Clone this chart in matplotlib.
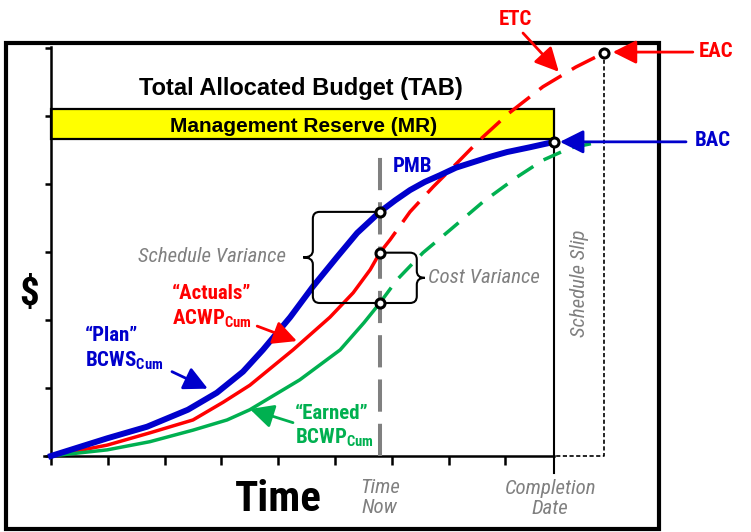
import matplotlib.pyplot as plt
from matplotlib import font_manager as fm
from matplotlib.path import Path
from matplotlib.patches import PathPatch, Rectangle

# the reference uses a narrow sans; use one if installed, else shrink Liberation Sans
fams = {f.name for f in fm.fontManager.ttflist}
if 'Liberation Sans Narrow' in fams:
    NARROW, k = 'Liberation Sans Narrow', 1.0
elif 'Roboto Condensed' in fams:
    NARROW, k = 'Roboto Condensed', 1.0
else:
    NARROW, k = 'Liberation Sans', 0.88

plt.rcParams['font.family'] = [NARROW, 'Liberation Sans', 'DejaVu Sans']
plt.rcParams['mathtext.fontset'] = 'custom'
plt.rcParams['mathtext.bf'] = NARROW + ':bold'
plt.rcParams['mathtext.rm'] = NARROW

# time and cost, both in tick units
bcws_t = [0, 0.99, 1.69, 2.41, 2.92, 3.38, 3.73, 4.21, 4.61, 5.04, 5.39, 5.79,
          6.06, 6.32, 6.58, 6.85, 7.13, 7.43, 7.73, 8.03, 8.43, 8.86]
bcws_v = [0, 0.26, 0.43, 0.68, 0.93, 1.24, 1.56, 2.04, 2.49, 2.93, 3.28, 3.59,
          3.76, 3.91, 4.03, 4.13, 4.24, 4.32, 4.40, 4.47, 4.54, 4.62]
acwp_t = [0, 0.99, 1.74, 2.50, 3.03, 3.50, 4.26, 4.91, 5.32, 5.62, 5.79]
acwp_v = [0, 0.16, 0.34, 0.53, 0.79, 1.04, 1.56, 2.04, 2.40, 2.74, 2.99]
etc_t = [5.79, 5.97, 6.32, 6.73, 7.15, 7.55, 8.06, 8.66, 9.24, 9.74]
etc_v = [2.99, 3.18, 3.59, 3.96, 4.31, 4.65, 5.04, 5.43, 5.72, 5.93]
bcwp_t = [0, 0.99, 1.74, 2.50, 3.10, 3.50, 4.38, 5.09, 5.51, 5.79]
bcwp_v = [0, 0.09, 0.21, 0.38, 0.53, 0.68, 1.12, 1.56, 1.96, 2.25]
fcst_t = [5.79, 6.09, 6.55, 7.02, 7.61, 8.20, 8.66, 9.14, 9.67]
fcst_v = [2.25, 2.59, 2.99, 3.32, 3.74, 4.10, 4.35, 4.53, 4.62]

time_now = 5.79
completion = 8.86
mr_low = 4.66
tab = 5.10
x_ticks = [0, 1, 2, 3, 4, 5, 6, 7, 8]
y_ticks = [0, 1, 2, 3, 4, 5, 6]

BLUE = '#0000CC'
RED = '#FF0000'
GREEN = '#00B050'
GRAY = '#808080'

fig = plt.figure(figsize=(7.51, 5.32), dpi=100)
ax = fig.add_axes([0, 0, 1, 1])
ax.set_xlim(-0.898, 12.324)
ax.set_ylim(-1.118, 6.706)

# axes
for s in ['top', 'right']:
    ax.spines[s].set_visible(False)
ax.spines['left'].set_position(('data', 0))
ax.spines['bottom'].set_position(('data', 0))
ax.spines['left'].set_bounds(0, 6.01)
ax.spines['bottom'].set_bounds(-0.12, completion)
ax.spines['left'].set_linewidth(1.8)
ax.spines['bottom'].set_linewidth(1.8)
ax.set_xticks(x_ticks)
ax.set_yticks(y_ticks)
ax.tick_params(axis='x', direction='out', length=6.5, width=1.8, labelbottom=False)
ax.tick_params(axis='y', direction='out', length=4.5, width=1.8, labelleft=False)

# outer frame
ax.add_patch(Rectangle((-0.79, -1.07), 11.49, 7.14, fill=False, lw=3, ec='black',
                       clip_on=False, zorder=1))

# management reserve box
ax.add_patch(Rectangle((0, mr_low), completion, tab - mr_low, fc='#FFFF00', ec='black',
                       lw=1.6, zorder=2))
ax.text(4.45, 4.76, 'Management Reserve (MR)', ha='center', va='baseline',
        fontsize=15, fontweight='bold', family=['Liberation Sans', 'DejaVu Sans'], zorder=3)
ax.text(4.40, 5.31, 'Total Allocated Budget (TAB)', ha='center', va='baseline',
        fontsize=17, fontweight='bold', family=['Liberation Sans', 'DejaVu Sans'])

# time now, completion and schedule slip lines
ax.plot([time_now, time_now], [0, 4.53], color=GRAY, lw=2.9,
        linestyle=(0, (8, 3)), zorder=3)
ax.plot([completion, completion], [-0.25, bcws_v[-1]], color='black', lw=1.5, zorder=3)
ax.plot([etc_t[-1], etc_t[-1], completion], [etc_v[-1], 0, 0], color='black', lw=1.2,
        linestyle=(0, (2.5, 1.5)), zorder=3)

# curves
ax.plot(acwp_t, acwp_v, color=RED, lw=2.5, zorder=4)
ax.plot(etc_t, etc_v, color=RED, lw=2.5, linestyle=(0, (7.5, 3.5)), zorder=4)
ax.plot(bcwp_t, bcwp_v, color=GREEN, lw=2.5, zorder=4)
ax.plot(fcst_t, fcst_v, color=GREEN, lw=2.5, linestyle=(0, (5.5, 3.5)), zorder=4)
ax.plot(bcws_t, bcws_v, color=BLUE, lw=4.3, zorder=5)

# markers
mx = [time_now, time_now, time_now, completion, etc_t[-1]]
my = [bcws_v[bcws_t.index(time_now)], acwp_v[-1], bcwp_v[-1], bcws_v[-1], etc_v[-1]]
ax.plot(mx, my, 'o', ms=6.5, mfc='white', mec='black', mew=2.2, zorder=7)


def brace(x_end, x_edge, x_tip, y_top, y_bot, rx, ry):
    y_mid = (y_top + y_bot) / 2
    d = 1 if x_edge < x_end else -1
    verts = [(x_end, y_top), (x_edge + d * rx, y_top), (x_edge, y_top), (x_edge, y_top - ry),
             (x_edge, y_mid + ry), (x_edge, y_mid), (x_tip, y_mid),
             (x_edge, y_mid), (x_edge, y_mid - ry),
             (x_edge, y_bot + ry), (x_edge, y_bot), (x_edge + d * rx, y_bot), (x_end, y_bot)]
    codes = [Path.MOVETO, Path.LINETO, Path.CURVE3, Path.CURVE3,
             Path.LINETO, Path.CURVE3, Path.CURVE3, Path.CURVE3, Path.CURVE3,
             Path.LINETO, Path.CURVE3, Path.CURVE3, Path.LINETO]
    ax.add_patch(PathPatch(Path(verts, codes), fill=False, lw=1.5, ec='black', zorder=6))


brace(time_now, 4.61, 4.44, my[0], my[2], 0.12, 0.1)
brace(time_now, 6.44, 6.58, my[1], my[2], 0.12, 0.1)


# arrows
def arrow(start, tip, color, lw=2.0, size=18):
    ax.annotate('', xy=tip, xytext=start,
                arrowprops=dict(arrowstyle='-|>,head_length=0.8,head_width=0.4',
                                mutation_scale=size, color=color, lw=lw,
                                shrinkA=0, shrinkB=0),
                zorder=8, annotation_clip=False)


arrow((11.18, 4.62), (8.96, 4.62), BLUE)
arrow((11.30, 5.94), (9.89, 5.94), RED)
arrow((8.31, 6.22), (8.94, 5.65), RED)
arrow((2.13, 1.24), (2.76, 0.99), BLUE)
arrow((3.63, 1.91), (4.33, 1.69), RED)
arrow((4.26, 0.49), (3.50, 0.69), GREEN)

# labels
fs = 15 * k
bold = dict(fontsize=fs, fontweight='bold', va='baseline')
ax.text(11.65, 4.56, 'BAC', color=BLUE, ha='center', **bold)
ax.text(11.71, 5.87, 'EAC', color=RED, ha='center', **bold)
ax.text(8.17, 6.34, 'ETC', color=RED, ha='center', **bold)
ax.text(6.36, 4.18, 'PMB', color=BLUE, ha='center', **bold)
ax.text(2.13, 2.31, '\u201cActuals\u201d', color=RED, ha='left', **bold)
ax.text(2.13, 1.94, r'ACWP$_{\mathbf{Cum}}$', color=RED, ha='left', **bold)
ax.text(0.60, 1.69, '\u201cPlan\u201d', color=BLUE, ha='left', **bold)
ax.text(0.60, 1.32, r'BCWS$_{\mathbf{Cum}}$', color=BLUE, ha='left', **bold)
ax.text(4.30, 0.54, '\u201cEarned\u201d', color=GREEN, ha='left', **bold)
ax.text(4.30, 0.19, r'BCWP$_{\mathbf{Cum}}$', color=GREEN, ha='left', **bold)

ital = dict(fontsize=fs, style='italic', color=GRAY, va='baseline', ha='center')
ax.text(2.83, 2.85, 'Schedule Variance', **ital)
ax.text(7.62, 2.54, 'Cost Variance', **ital)
ax.text(5.79, -0.54, 'Time', **ital)
ax.text(5.79, -0.84, 'Now', **ital)
ax.text(8.79, -0.56, 'Completion', **ital)
ax.text(8.79, -0.85, 'Date', **ital)
ax.text(9.31, 2.54, 'Schedule Slip', fontsize=fs, style='italic', color=GRAY,
        rotation=90, ha='center', va='center')

ax.text(-0.39, 2.37, '$', fontsize=28 * k, fontweight='bold', ha='center', va='center')
ax.text(4.0, -0.81, 'Time', fontsize=31 * k, fontweight='bold', ha='center', va='baseline')

fig.savefig('out.png', dpi=100)
